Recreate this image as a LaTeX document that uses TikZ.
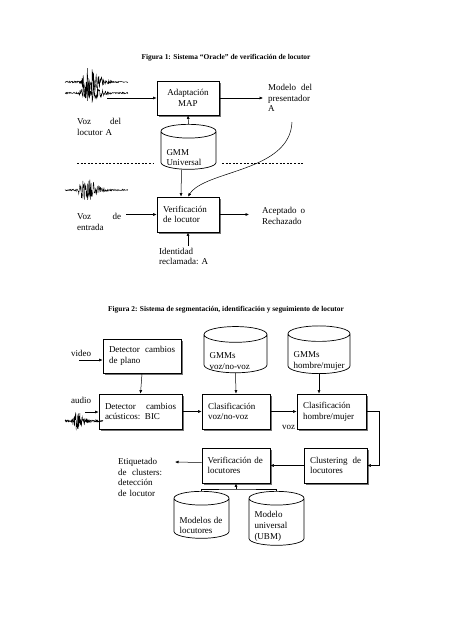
\documentclass[tikz,border=0pt]{standalone}
\usepackage{fontspec}
\setmainfont{Liberation Serif}
\usetikzlibrary{arrows.meta, positioning, shapes.geometric, shadows, calc}

\newcommand{\dgfont}{\fontsize{9}{10.6}\selectfont}
\newcommand{\ttlfont}{\fontsize{7.4}{9}\selectfont\bfseries}

% speech waveform: x0, y0, width, burst position, amplitude, seed
\newcommand{\waveform}[6]{%
  \pgfmathsetseed{#6}
  \draw[wav] plot[samples=170, domain=0:1, variable=\t]
    ({#1+#3*\t}, {#2 + (0.8 + #5*((\t<#4) ? exp(-((\t-#4)/0.07)^2) : exp(-((\t-#4)/0.2)^2)))*rand});
}

\begin{document}
\begin{tikzpicture}[x=1pt, y=-1pt,
        blk/.style={draw, line width=0.8pt, fill=white, inner xsep=6pt, inner ysep=0pt, align=left, font=\dgfont,
            drop shadow={shadow xshift=1.8pt, shadow yshift=-1.8pt, fill=black!55, opacity=1}},
        db/.style={cylinder, shape border rotate=90, draw, line width=0.7pt, aspect=0.25, fill=white,
            inner xsep=5.5pt, inner ysep=0pt, align=left, font=\dgfont, text height=16pt},
        lbl/.style={inner sep=0pt, align=left, font=\dgfont, anchor=west},
        ttl/.style={inner sep=0pt, font=\ttlfont},
        arr/.style={-{Latex[length=3.5pt, width=3pt]}, line width=0.5pt},
        wav/.style={line width=0.4pt},
        sep/.style={line width=0.6pt, dash pattern=on 2pt off 1.6pt}
    ]
    \useasboundingbox[fill=white] (0,0) rectangle (452,640);

    % Figura 1
    \node[ttl] (tit1) at (226,58) {Figura 1: Sistema “Oracle” de verificación de locutor};
    \node[blk, text width=50pt, minimum height=34pt, align=center] (adapt) at (188,98) {Adaptación\\MAP};
    \node[db, text width=44pt, minimum width=55pt, minimum height=45pt] (univ) at (188.5,152.5) {GMM\\Universal};
    \node[blk, text width=50pt, minimum height=35pt] (verif) at (188,214.5) {Verificación\\de locutor};
    \node[lbl, text width=44pt] (vozA) at (77,127) {Voz\hfill del\\locutor A};
    \node[lbl, text width=44pt] (modelo) at (268,98) {Modelo\hfill del\\presentador\\A};
    \node[lbl, text width=44pt] (vozent) at (77,222) {Voz\hfill de\\entrada};
    \node[lbl, text width=43pt] (acept) at (262,216) {Aceptado\hfill o\\Rechazado};
    \node[lbl] (ident) at (159,256.5) {Identidad\\reclamada: A};

    \waveform{65}{82}{63}{0.35}{15}{3}
    \waveform{65}{93}{63}{0.33}{14}{8}
    \waveform{65}{190}{63}{0.3}{13}{21}

    \coordinate (w1) at (107,98);
    \coordinate (w2) at (126,214.5);
    \coordinate (modin) at (263,98);
    \coordinate (acin) at (249,214.5);
    \coordinate (modA) at (292,122);

    \draw[arr] (w1) -- (adapt.west);
    \draw[arr] (adapt.east) -- (modin);
    \draw[arr] (univ.top) -- (adapt.south);
    \draw[arr] ([xshift=-7pt]univ.bottom) -- ([xshift=-7pt]verif.north);
    \draw[arr] (modA) .. controls (290,172) and (205,170) .. (verif.north);
    \draw[arr] (w2) -- (verif.west);
    \draw[arr] (verif.east) -- (acin);
    \draw[arr] ([yshift=2pt]ident.north -| verif.south) -- (verif.south);

    \draw[sep] (77,163) -- (153,163);
    \draw[sep] (222,163) -- (303,163);

    % Figura 2
    \node[ttl] (tit2) at (226,310) {Figura 2: Sistema de segmentación, identificación y seguimiento de locutor};
    \node[blk, text width=66pt, minimum height=34pt] (plano) at (142,356) {Detector\hfill cambios\\de plano};
    \node[db, text width=52pt, minimum width=63pt, minimum height=46pt] (vnv) at (235.5,356) {GMMs\\voz/no-voz};
    \node[db, text width=51pt, minimum width=62pt, minimum height=46pt] (hm) at (319,356) {GMMs\\hombre/mujer};
    \node[blk, text width=71pt, minimum height=35pt] (bic) at (140.5,411.5) {Detector\hfill cambios\\acústicos: BIC};
    \node[blk, text width=56pt, minimum height=35pt] (cvnv) at (236,411.5) {Clasificación\\voz/no-voz};
    \node[blk, text width=57pt, minimum height=35pt] (chm) at (331.5,411.5) {Clasificación\\hombre/mujer};
    \node[blk, text width=51pt, minimum height=35pt] (clust) at (335.5,465.5) {Clustering\hfill de\\locutores};
    \node[blk, text width=57pt, inner xsep=5.5pt, minimum height=35pt] (verloc) at (236,465.5) {Verificación de\\locutores};
    \node[db, text width=44pt, minimum width=55pt, minimum height=47pt] (mods) at (201.5,520.5) {Modelos de\\locutores};
    \node[db, text width=44pt, minimum width=55pt, minimum height=54pt, text height=11pt] (ubm) at (276.5,524) {Modelo\\universal\\(UBM)};

    \node[lbl] (video) at (71,353) {video};
    \node[lbl] (audio) at (71,400) {audio};
    \node[lbl] (voz) at (282,427) {voz};
    \node[lbl, text width=44pt] (etiq) at (118,477.5) {Etiquetado\\de\hfill clusters:\\detección\\de locutor};

    \waveform{65}{421}{38}{0.3}{9}{5}

    \coordinate (vin) at (79,360);
    \coordinate (ain) at (85,412);
    \coordinate (etout) at (175,462);
    \coordinate (join) at (236,489);

    \draw[arr] (vin) -- (vin -| plano.west);
    \draw[arr] (ain) -- (ain -| bic.west);
    \draw[arr] (plano.south) -- (bic.north);
    \draw[arr] (vnv.bottom) -- (cvnv.north);
    \draw[arr] (hm.bottom) -- (hm.bottom |- chm.north);
    \draw[arr] (bic.east) -- (cvnv.west);
    \draw[arr] (cvnv.east) -- (chm.west);
    \draw[arr] (chm.east) -- ++(13,0) |- (clust.east);
    \draw[arr] (clust.west) -- (verloc.east);
    \draw[arr] ([yshift=3pt]verloc.west) -- (etout);
    \draw (mods.top) |- (join) -| (ubm.top);
    \draw[arr] (join) -- (verloc.south);
\end{tikzpicture}
\end{document}
